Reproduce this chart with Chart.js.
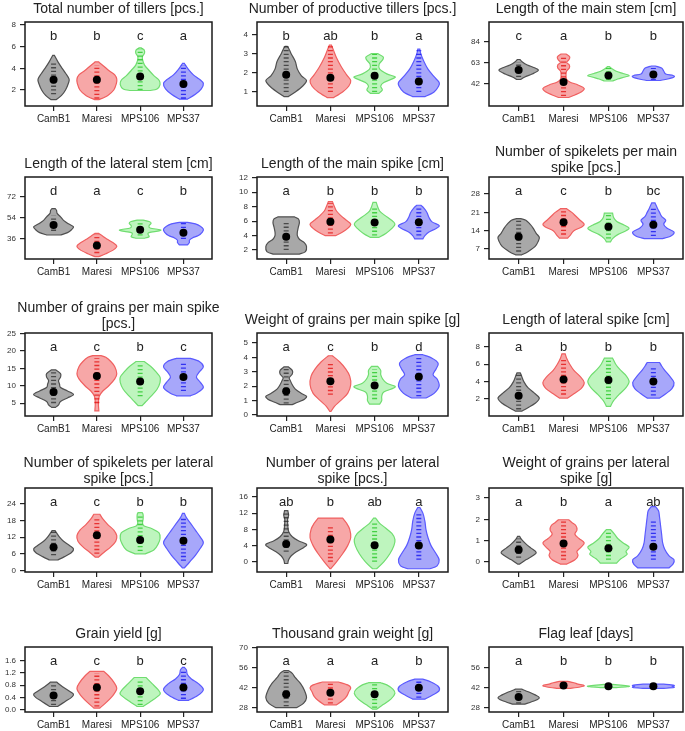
<!DOCTYPE html>
<html>
<head>
<meta charset="utf-8">
<script src="https://cdn.jsdelivr.net/npm/chart.js@4.4.1/dist/chart.umd.min.js"></script>
<style>
  html, body { margin: 0; padding: 0; background: #fff; overflow: hidden; }
  body { width: 685px; height: 731px; position: relative; }
  canvas { position: absolute; }
</style>
</head>
<body>
<script>
// groups on the x axis
const groups = ["CamB1", "Maresi", "MPS106", "MPS37"];

// letters of significance per panel
const tillersLetters = ["b", "b", "c", "a"];
const prodTillersLetters = ["b", "ab", "b", "a"];
const mainStemLetters = ["c", "a", "b", "b"];
const latStemLetters = ["d", "a", "c", "b"];
const mainSpikeLetters = ["a", "b", "b", "b"];
const spkMainLetters = ["a", "c", "b", "bc"];
const grainsMainLetters = ["a", "c", "b", "c"];
const weightMainLetters = ["a", "c", "b", "d"];
const latSpikeLetters = ["a", "b", "b", "b"];
const spkLatLetters = ["a", "c", "b", "b"];
const grainsLatLetters = ["ab", "b", "ab", "a"];
const weightLatLetters = ["a", "b", "a", "ab"];
const yieldLetters = ["a", "c", "b", "c"];
const tgwLetters = ["a", "a", "a", "b"];
const flagLetters = ["a", "b", "b", "b"];

// group means (black dots)
const tillersMeans = [2.95, 2.95, 3.25, 2.55];
const prodTillersMeans = [1.9, 1.75, 1.85, 1.55];
const mainStemMeans = [56, 44, 50.5, 51.5];
const latStemMeans = [48, 30.5, 44, 41.5];
const mainSpikeMeans = [3.85, 5.9, 5.8, 5.85];
const spkMainMeans = [11.7, 17.2, 15.5, 16.3];
const grainsMainMeans = [8.2, 12.8, 11.2, 12.5];
const weightMainMeans = [1.65, 2.35, 2.05, 2.65];
const latSpikeMeans = [2.38, 4.25, 4.2, 4.0];
const spkLatMeans = [8.4, 12.7, 11.0, 10.7];
const grainsLatMeans = [4.4, 5.5, 4.1, 4.0];
const weightLatMeans = [0.57, 0.87, 0.64, 0.72];
const yieldMeans = [0.46, 0.72, 0.6, 0.72];
const tgwMeans = [37.5, 38.5, 37.5, 42];
const flagMeans = [35.5, 43.5, 43, 43];

// range of the individual observations (rug strip)
const tillersRugs = [[1.6, 4.6], [1.2, 4.3], [2, 5.8], [1.2, 4.3]];
const prodTillersRugs = [[1, 3.4], [1, 3.4], [1, 3], [1, 3.2]];
const mainStemRugs = [[49, 64], [30, 70], [46, 58], [46, 58]];
const latStemRugs = [[43, 56], [24, 40], [39, 51], [36, 50]];
const mainSpikeRugs = [[2, 6], [4.3, 8.5], [4, 8], [4, 8]];
const spkMainRugs = [[6, 18], [12.5, 22], [11, 20], [12, 23]];
const grainsMainRugs = [[5, 14], [5, 18], [7, 16], [8.5, 17]];
const weightMainRugs = [[0.8, 3.2], [1.4, 3.7], [1.1, 3.2], [1.3, 4.1]];
const latSpikeRugs = [[0.8, 4.8], [2.5, 6.5], [2, 6.4], [2.4, 5.8]];
const spkLatRugs = [[5.5, 14], [6, 19], [7, 20], [3.5, 19]];
const grainsLatRugs = [[2.5, 12], [0, 9], [0, 9.5], [0.5, 12]];
const weightLatRugs = [[0.2, 1.1], [0.1, 1.9], [0.1, 1.45], [0.1, 1.9]];
const yieldRugs = [[0.15, 0.85], [0.1, 1.2], [0.15, 1.0], [0.35, 1.3]];
const tgwRugs = [[29, 53], [31, 45], [28, 45], [35, 47]];
const flagRugs = [[31, 40], [42, 45.5], [42.2, 44], [42, 44.3]];

// violin outlines: [value, relative half width]
const tillersViolins = [
  [[1.1, 0.12], [1.5, 0.4], [2.0, 0.6], [2.6, 0.74], [3.0, 0.78], [3.5, 0.62], [4.0, 0.43], [4.6, 0.22], [5.2, 0.04]],
  [[1.1, 0.1], [1.5, 0.55], [2.0, 0.85], [2.6, 0.98], [3.0, 1.0], [3.4, 0.9], [3.8, 0.6], [4.2, 0.35], [4.6, 0.08]],
  [[1.95, 0.5], [2.1, 0.85], [2.5, 1.0], [2.9, 0.95], [3.3, 0.7], [3.8, 0.45], [4.3, 0.22], [4.8, 0.12], [5.1, 0.12], [5.4, 0.22], [5.7, 0.2], [5.9, 0.05]],
  [[1.15, 0.2], [1.6, 0.6], [2.1, 0.9], [2.6, 1.0], [3.0, 0.8], [3.4, 0.5], [3.9, 0.25], [4.45, 0.05]]
];
const prodTillersViolins = [
  [[0.75, 0.1], [1.0, 0.45], [1.3, 0.8], [1.6, 1.0], [1.85, 0.75], [2.2, 0.55], [2.6, 0.45], [3.0, 0.25], [3.3, 0.12], [3.4, 0.05]],
  [[0.7, 0.15], [1.0, 0.6], [1.3, 0.9], [1.6, 1.0], [1.9, 0.8], [2.3, 0.55], [2.8, 0.3], [3.2, 0.15], [3.47, 0.05]],
  [[0.92, 0.2], [1.1, 0.38], [1.3, 0.3], [1.5, 0.45], [1.7, 0.9], [1.8, 1.0], [1.95, 0.6], [2.2, 0.25], [2.45, 0.22], [2.7, 0.4], [2.85, 0.42], [3.02, 0.15]],
  [[0.75, 0.3], [1.0, 0.75], [1.3, 0.97], [1.5, 1.0], [1.8, 0.75], [2.2, 0.45], [2.6, 0.25], [3.0, 0.1], [3.25, 0.05]]
];
const mainStemViolins = [
  [[46.5, 0.1], [49, 0.3], [52, 0.65], [55.5, 0.95], [58, 0.8], [61, 0.42], [64, 0.18], [66.5, 0.06]],
  [[28.5, 0.25], [31, 0.55], [34, 0.85], [37.5, 1.0], [41, 0.7], [44, 0.3], [47, 0.14], [52, 0.12], [55, 0.15], [58, 0.28], [61, 0.28], [63.5, 0.15], [66, 0.25], [69, 0.3], [72, 0.12]],
  [[45, 0.2], [47, 0.45], [49, 0.8], [50.5, 1.0], [52.5, 0.7], [55, 0.35], [57.5, 0.15], [59.3, 0.05]],
  [[45.5, 0.3], [47, 0.7], [49, 1.0], [50.5, 0.95], [52, 0.6], [55, 0.5], [58, 0.4], [60, 0.1]]
];
const latStemViolins = [
  [[39.5, 0.35], [41.5, 0.7], [44, 0.9], [46.5, 1.0], [49, 0.75], [52, 0.5], [55, 0.35], [58, 0.18], [60.5, 0.15], [62, 0.08]],
  [[21, 0.1], [23.5, 0.45], [27, 0.85], [30, 1.0], [33, 0.8], [36, 0.5], [38.5, 0.3], [40.8, 0.1]],
  [[36.7, 0.2], [38, 0.45], [40, 0.4], [41.5, 0.45], [43, 0.95], [44, 1.0], [45.5, 0.5], [47.5, 0.45], [49.5, 0.55], [51, 0.45], [52.2, 0.15]],
  [[31, 0.2], [33, 0.3], [35, 0.3], [37, 0.45], [39, 0.75], [42, 0.95], [44.5, 1.0], [47, 0.85], [49, 0.6], [50.3, 0.2]]
];
const mainSpikeViolins = [
  [[1.45, 0.65], [1.8, 0.95], [2.5, 1.0], [3.0, 0.9], [3.5, 0.65], [4.0, 0.55], [4.5, 0.55], [5.2, 0.6], [5.8, 0.65], [6.3, 0.6], [6.6, 0.4]],
  [[4.0, 0.25], [4.5, 0.6], [5.0, 0.85], [5.6, 1.0], [6.2, 0.75], [6.8, 0.5], [7.4, 0.3], [8.0, 0.2], [8.7, 0.1]],
  [[3.75, 0.2], [4.3, 0.55], [5.0, 0.85], [5.6, 1.0], [6.2, 0.8], [6.8, 0.5], [7.4, 0.25], [8.0, 0.15], [8.6, 0.08]],
  [[3.55, 0.2], [4.0, 0.3], [4.5, 0.5], [5.0, 0.85], [5.4, 1.0], [5.9, 0.65], [6.5, 0.5], [7.2, 0.4], [7.8, 0.25], [8.2, 0.1]]
];
const spkMainViolins = [
  [[4.8, 0.15], [6, 0.45], [8, 0.8], [10, 0.95], [11.5, 1.0], [13, 0.85], [15, 0.7], [16.5, 0.55], [18, 0.35], [18.6, 0.1]],
  [[11.2, 0.2], [12.5, 0.35], [14, 0.5], [15.5, 0.9], [16.5, 1.0], [18, 0.8], [19.5, 0.6], [21, 0.4], [22.4, 0.15]],
  [[9.7, 0.1], [11, 0.2], [12.5, 0.45], [14, 0.85], [15, 1.0], [16.2, 0.75], [17.5, 0.4], [19, 0.25], [20.7, 0.2]],
  [[11, 0.45], [12, 0.85], [13.5, 1.0], [15, 0.65], [16.5, 0.5], [18, 0.6], [19.5, 0.4], [21, 0.3], [22.5, 0.2], [24.6, 0.08]]
];
const grainsMainViolins = [
  [[3.8, 0.1], [4.5, 0.25], [5.5, 0.35], [6.5, 0.7], [7.5, 1.0], [8.5, 0.7], [9.5, 0.35], [10.5, 0.3], [11.5, 0.25], [12.5, 0.35], [13.5, 0.35], [14.6, 0.1]],
  [[2.8, 0.1], [5, 0.08], [7, 0.12], [8.5, 0.3], [10, 0.6], [12, 0.9], [13.5, 1.0], [15.5, 0.9], [17, 0.7], [18.2, 0.45], [18.7, 0.2]],
  [[4.3, 0.1], [5.5, 0.3], [7, 0.55], [9, 0.85], [11, 1.0], [12.5, 1.0], [14, 0.8], [15.5, 0.55], [17, 0.2]],
  [[7.1, 0.35], [8, 0.7], [9.5, 1.0], [11, 0.85], [12.5, 0.65], [14, 0.8], [15.5, 1.0], [17, 0.8], [17.9, 0.35]]
];
const weightMainViolins = [
  [[0.72, 0.3], [0.9, 0.6], [1.1, 0.9], [1.3, 1.0], [1.5, 0.75], [1.8, 0.45], [2.1, 0.3], [2.4, 0.2], [2.6, 0.15], [2.85, 0.3], [3.1, 0.3], [3.35, 0.1]],
  [[0.25, 0.03], [0.6, 0.2], [1.0, 0.5], [1.5, 0.85], [2.1, 1.0], [2.7, 0.95], [3.2, 0.75], [3.7, 0.45], [4.12, 0.1]],
  [[0.76, 0.25], [1.0, 0.35], [1.3, 0.35], [1.6, 0.45], [1.85, 0.9], [2.0, 1.0], [2.2, 0.6], [2.5, 0.4], [2.8, 0.3], [3.1, 0.3], [3.38, 0.15]],
  [[1.18, 0.35], [1.5, 0.75], [2.0, 1.0], [2.5, 0.9], [2.8, 0.7], [3.2, 0.85], [3.6, 0.95], [3.95, 0.65], [4.19, 0.2]]
];
const latSpikeViolins = [
  [[0.6, 0.15], [1.0, 0.45], [1.5, 0.8], [2.1, 1.0], [2.7, 0.75], [3.3, 0.45], [4.0, 0.25], [4.6, 0.15], [5.0, 0.08]],
  [[2.1, 0.2], [2.6, 0.5], [3.2, 0.85], [3.9, 1.0], [4.6, 0.8], [5.3, 0.5], [6.0, 0.3], [6.7, 0.15], [7.2, 0.08]],
  [[1.15, 0.1], [1.8, 0.25], [2.6, 0.55], [3.3, 0.85], [4.0, 1.0], [4.7, 0.85], [5.4, 0.55], [6.0, 0.35], [6.7, 0.2]],
  [[2.1, 0.3], [2.6, 0.6], [3.2, 0.9], [3.9, 1.0], [4.6, 0.8], [5.3, 0.55], [5.8, 0.4], [6.2, 0.3]]
];
const spkLatViolins = [
  [[3.8, 0.2], [5, 0.55], [6.5, 0.9], [7.8, 1.0], [9, 0.8], [10.5, 0.5], [12, 0.3], [13.5, 0.15], [14.3, 0.08]],
  [[4.8, 0.08], [6.5, 0.35], [8.5, 0.7], [10.5, 0.95], [12.5, 1.0], [14.5, 0.85], [16.5, 0.55], [18.5, 0.3], [20.2, 0.15]],
  [[6, 0.25], [7.5, 0.7], [9.5, 0.9], [11.5, 1.0], [13.5, 0.95], [15, 0.6], [16, 0.2], [17, 0.12], [18.5, 0.15], [20, 0.15], [20.8, 0.1]],
  [[1.0, 0.05], [3, 0.3], [5.5, 0.6], [8, 0.85], [10, 1.0], [12, 0.85], [14.5, 0.6], [17, 0.35], [19, 0.15], [20.5, 0.05]]
];
const grainsLatViolins = [
  [[-0.4, 0.08], [0.5, 0.12], [1.5, 0.25], [2.5, 0.5], [3.5, 0.85], [4.3, 1.0], [5.2, 0.6], [6.2, 0.3], [7.5, 0.12], [9, 0.08], [10.5, 0.07], [11.5, 0.12], [12.6, 0.08]],
  [[-1.7, 0.02], [0, 0.3], [2, 0.6], [4, 0.85], [6, 1.0], [8, 0.95], [9.5, 0.8], [10.8, 0.6]],
  [[-1.7, 0.1], [0, 0.45], [2, 0.75], [4, 0.95], [5.5, 1.0], [7, 0.85], [8.5, 0.5], [9.5, 0.25], [10.8, 0.05]],
  [[-1.7, 0.55], [-1, 0.9], [0.5, 1.0], [2, 0.85], [4, 0.6], [6, 0.45], [8, 0.35], [10, 0.3], [12, 0.2], [13.4, 0.05]]
];
const weightLatViolins = [
  [[-0.1, 0.05], [0.1, 0.35], [0.3, 0.7], [0.45, 0.85], [0.65, 0.6], [0.85, 0.35], [1.05, 0.15], [1.2, 0.05]],
  [[-0.1, 0.15], [0.1, 0.55], [0.3, 0.7], [0.5, 0.65], [0.7, 0.85], [0.9, 1.0], [1.1, 0.75], [1.3, 0.55], [1.5, 0.65], [1.7, 0.6], [1.85, 0.4], [1.98, 0.25]],
  [[-0.05, 0.4], [0.15, 0.6], [0.35, 0.9], [0.5, 0.85], [0.7, 1.0], [0.9, 0.7], [1.1, 0.45], [1.3, 0.3], [1.52, 0.1]],
  [[-0.28, 0.75], [-0.1, 0.95], [0.1, 1.0], [0.3, 0.75], [0.6, 0.55], [0.9, 0.45], [1.3, 0.4], [1.7, 0.35], [2.1, 0.3], [2.4, 0.25], [2.6, 0.1]]
];
const yieldViolins = [
  [[0.1, 0.2], [0.25, 0.55], [0.4, 0.9], [0.5, 1.0], [0.6, 0.8], [0.75, 0.45], [0.9, 0.15]],
  [[0.05, 0.15], [0.25, 0.5], [0.5, 0.85], [0.7, 1.0], [0.9, 0.85], [1.1, 0.6], [1.25, 0.35]],
  [[0.1, 0.15], [0.3, 0.6], [0.5, 1.0], [0.65, 0.9], [0.85, 0.6], [1.05, 0.3]],
  [[0.3, 0.25], [0.45, 0.7], [0.65, 1.0], [0.85, 0.75], [1.0, 0.4], [1.15, 0.2], [1.3, 0.15], [1.38, 0.05]]
];
const tgwViolins = [
  [[28, 0.5], [31, 0.85], [35, 1.0], [40, 0.9], [45, 0.7], [49, 0.45], [52, 0.3], [54, 0.1]],
  [[30, 0.3], [33, 0.6], [36, 0.8], [39, 0.9], [42, 1.0], [44, 0.85], [46, 0.4]],
  [[27, 0.1], [30, 0.4], [34, 0.8], [38, 1.0], [41, 0.9], [44, 0.6], [45.5, 0.3]],
  [[34, 0.3], [37, 0.7], [40, 1.0], [43, 0.95], [46, 0.6], [48, 0.2]]
];
const flagViolins = [
  [[30.5, 0.3], [33, 0.8], [35, 1.0], [37, 0.8], [39, 0.5], [41, 0.15]],
  [[41.5, 0.3], [42.5, 0.8], [43.5, 1.0], [44.5, 0.7], [45.5, 0.5], [46.5, 0.2]],
  [[42, 0.35], [42.7, 0.9], [43.2, 1.0], [43.8, 0.6], [44.3, 0.2]],
  [[41.5, 0.5], [42.2, 1.0], [43, 0.9], [43.7, 1.0], [44.5, 0.5]]
];

// y tick labels
const tillersTicks = [2, 4, 6, 8];
const prodTillersTicks = [1, 2, 3, 4];
const mainStemTicks = [42, 63, 84];
const latStemTicks = [36, 54, 72];
const mainSpikeTicks = [2, 4, 6, 8, 10, 12];
const spkMainTicks = [7, 14, 21, 28];
const grainsMainTicks = [5, 10, 15, 20, 25];
const weightMainTicks = [0, 1, 2, 3, 4, 5];
const latSpikeTicks = [2, 4, 6, 8];
const spkLatTicks = [0, 6, 12, 18, 24];
const grainsLatTicks = [0, 4, 8, 12, 16];
const weightLatTicks = [0, 1, 2, 3];
const yieldTicks = [0, 0.4, 0.8, 1.2, 1.6];
const tgwTicks = [28, 42, 56, 70];
const flagTicks = [28, 42, 56];

const fills = ["rgba(110,110,110,0.6)", "rgba(240,80,80,0.5)", "rgba(100,230,100,0.42)", "rgba(80,80,245,0.5)"];
const edges = ["#505050", "#f06060", "#70dd70", "#5a5aff"];
const rugColors = ["#222", "#e00000", "#10c010", "#0000ee"];

const colL = [25, 257, 489], colR = [212, 448, 683];
const rowT = [22, 177, 333, 488, 647], rowB = [106, 259, 416, 572, 712];

const panels = [
  { title: ["Total number of tillers [pcs.]"], letters: tillersLetters, means: tillersMeans, rugs: tillersRugs, violins: tillersViolins, ticks: tillersTicks, min: 0.52, max: 8.28, dec: 0 },
  { title: ["Number of productive tillers [pcs.]"], letters: prodTillersLetters, means: prodTillersMeans, rugs: prodTillersRugs, violins: prodTillersViolins, ticks: prodTillersTicks, min: 0.26, max: 4.68, dec: 0 },
  { title: ["Length of the main stem [cm]"], letters: mainStemLetters, means: mainStemMeans, rugs: mainStemRugs, violins: mainStemViolins, ticks: mainStemTicks, min: 20, max: 104, dec: 0 },
  { title: ["Length of the lateral stem [cm]"], letters: latStemLetters, means: latStemMeans, rugs: latStemRugs, violins: latStemViolins, ticks: latStemTicks, min: 19, max: 89, dec: 0 },
  { title: ["Length of the main spike [cm]"], letters: mainSpikeLetters, means: mainSpikeMeans, rugs: mainSpikeRugs, violins: mainSpikeViolins, ticks: mainSpikeTicks, min: 0.77, max: 12.1, dec: 0 },
  { title: ["Number of spikelets per main", "spike [pcs.]"], letters: spkMainLetters, means: spkMainMeans, rugs: spkMainRugs, violins: spkMainViolins, ticks: spkMainTicks, min: 3.2, max: 34.5, dec: 0 },
  { title: ["Number of grains per main spike", "[pcs.]"], letters: grainsMainLetters, means: grainsMainMeans, rugs: grainsMainRugs, violins: grainsMainViolins, ticks: grainsMainTicks, min: 1.3, max: 25.2, dec: 0 },
  { title: ["Weight of grains per main spike [g]"], letters: weightMainLetters, means: weightMainMeans, rugs: weightMainRugs, violins: weightMainViolins, ticks: weightMainTicks, min: -0.07, max: 5.7, dec: 0 },
  { title: ["Length of lateral spike [cm]"], letters: latSpikeLetters, means: latSpikeMeans, rugs: latSpikeRugs, violins: latSpikeViolins, ticks: latSpikeTicks, min: 0.04, max: 9.6, dec: 0 },
  { title: ["Number of spikelets per lateral", "spike [pcs.]"], letters: spkLatLetters, means: spkLatMeans, rugs: spkLatRugs, violins: spkLatViolins, ticks: spkLatTicks, min: -0.5, max: 29.6, dec: 0 },
  { title: ["Number of grains per lateral", "spike [pcs.]"], letters: grainsLatLetters, means: grainsLatMeans, rugs: grainsLatRugs, violins: grainsLatViolins, ticks: grainsLatTicks, min: -2.5, max: 18.2, dec: 0 },
  { title: ["Weight of grains per lateral", "spike [g]"], letters: weightLatLetters, means: weightLatMeans, rugs: weightLatRugs, violins: weightLatViolins, ticks: weightLatTicks, min: -0.47, max: 3.47, dec: 0 },
  { title: ["Grain yield [g]"], letters: yieldLetters, means: yieldMeans, rugs: yieldRugs, violins: yieldViolins, ticks: yieldTicks, min: -0.08, max: 2.05, dec: 1 },
  { title: ["Thousand grain weight [g]"], letters: tgwLetters, means: tgwMeans, rugs: tgwRugs, violins: tgwViolins, ticks: tgwTicks, min: 25, max: 70.5, dec: 0 },
  { title: ["Flag leaf [days]"], letters: flagLetters, means: flagMeans, rugs: flagRugs, violins: flagViolins, ticks: flagTicks, min: 25, max: 70.5, dec: 0 }
];

// canvas margins round each plot box (extra room on the right for long titles)
const PAD_L = 30, PAD_T = 40, PAD_R = 32, PAD_B = 28;

function smoothSide(ctx, pts) {
  for (let i = 0; i < pts.length - 1; i++) {
    const p0 = pts[i - 1] || pts[i], p1 = pts[i], p2 = pts[i + 1], p3 = pts[i + 2] || p2;
    ctx.bezierCurveTo(
      p1.x + (p2.x - p0.x) / 6, p1.y + (p2.y - p0.y) / 6,
      p2.x - (p3.x - p1.x) / 6, p2.y - (p3.y - p1.y) / 6,
      p2.x, p2.y
    );
  }
}

const violinPlugin = {
  id: "violins",
  beforeDatasetsDraw(chart) {
    const p = chart.options.plugins.violins.panel;
    const xs = chart.scales.x, ys = chart.scales.y, ctx = chart.ctx;
    const unit = xs.getPixelForValue(1) - xs.getPixelForValue(0);
    ctx.save();
    p.violins.forEach((prof, g) => {
      const cx = xs.getPixelForValue(g + 1);
      const right = prof.map(([v, w]) => ({ x: cx + w * 0.46 * unit, y: ys.getPixelForValue(v) }));
      const left = prof.slice().reverse().map(([v, w]) => ({ x: cx - w * 0.46 * unit, y: ys.getPixelForValue(v) }));
      ctx.beginPath();
      ctx.moveTo(right[0].x, right[0].y);
      smoothSide(ctx, right);
      ctx.lineTo(left[0].x, left[0].y);
      smoothSide(ctx, left);
      ctx.closePath();
      ctx.fillStyle = fills[g];
      ctx.fill();
      ctx.lineWidth = 1.2;
      ctx.strokeStyle = edges[g];
      ctx.stroke();
      // rug strip
      const [lo, hi] = p.rugs[g];
      ctx.beginPath();
      ctx.setLineDash([1.3, 2.4]);
      ctx.lineWidth = 5;
      ctx.strokeStyle = rugColors[g];
      ctx.globalAlpha = 0.7;
      ctx.moveTo(cx, ys.getPixelForValue(lo));
      ctx.lineTo(cx, ys.getPixelForValue(hi));
      ctx.stroke();
      ctx.setLineDash([]);
      ctx.globalAlpha = 1;
    });
    ctx.restore();
  },
  afterDraw(chart) {
    const p = chart.options.plugins.violins.panel;
    const a = chart.chartArea, ctx = chart.ctx, xs = chart.scales.x;
    ctx.save();
    ctx.strokeStyle = "#1a1a1a";
    ctx.lineWidth = 1.5;
    ctx.strokeRect(a.left, a.top, a.right - a.left, a.bottom - a.top);
    ctx.fillStyle = "#222";
    ctx.textAlign = "center";
    ctx.textBaseline = "middle";
    ctx.font = "13px 'Liberation Sans', Arial, sans-serif";
    p.letters.forEach((l, g) => ctx.fillText(l, xs.getPixelForValue(g + 1), a.top + 14));
    ctx.font = "14px 'Liberation Sans', Arial, sans-serif";
    const cx = (a.left + a.right) / 2;
    if (p.title.length === 1) {
      ctx.fillText(p.title[0], cx, a.top - 13);
    } else {
      ctx.fillText(p.title[0], cx, a.top - 25);
      ctx.fillText(p.title[1], cx, a.top - 9);
    }
    ctx.restore();
  }
};

panels.forEach((p, idx) => {
  const col = idx % 3, row = Math.floor(idx / 3);
  const bl = colL[col], br = colR[col], bt = rowT[row], bb = rowB[row];
  const cv = document.createElement("canvas");
  const w = br - bl + PAD_L + PAD_R, h = bb - bt + PAD_T + PAD_B;
  cv.width = w; cv.height = h;
  cv.style.left = (bl - PAD_L) + "px";
  cv.style.top = (bt - PAD_T) + "px";
  cv.style.width = w + "px"; cv.style.height = h + "px";
  document.body.appendChild(cv);

  new Chart(cv.getContext("2d"), {
    type: "scatter",
    data: {
      datasets: [{
        data: p.means.map((m, i) => ({ x: i + 1, y: m })),
        pointRadius: 4,
        pointHoverRadius: 4,
        backgroundColor: "#000",
        borderColor: "#000",
        borderWidth: 0
      }]
    },
    options: {
      responsive: false,
      animation: false,
      devicePixelRatio: 1,
      layout: { padding: { left: 0, top: PAD_T, right: PAD_R, bottom: 0 } },
      plugins: {
        legend: { display: false },
        tooltip: { enabled: false },
        violins: { panel: p }
      },
      scales: {
        x: {
          type: "linear",
          min: 0.34,
          max: 4.66,
          afterBuildTicks: (s) => { s.ticks = [1, 2, 3, 4].map((v) => ({ value: v })); },
          afterFit: (s) => { s.height = PAD_B; },
          ticks: {
            callback: (v) => groups[v - 1],
            font: { size: 10, family: "'Liberation Sans', Arial, sans-serif" },
            color: "#222",
            padding: 2,
            maxRotation: 0,
            autoSkip: false
          },
          grid: { drawOnChartArea: false, drawTicks: true, tickLength: 5, color: "#222", lineWidth: 1.2 },
          border: { display: false }
        },
        y: {
          type: "linear",
          min: p.min,
          max: p.max,
          afterBuildTicks: (s) => { s.ticks = p.ticks.map((v) => ({ value: v })); },
          afterFit: (s) => { s.width = PAD_L; },
          ticks: {
            callback: (v) => v.toFixed(p.dec),
            font: { size: 8, family: "'Liberation Sans', Arial, sans-serif" },
            color: "#333",
            padding: 4,
            autoSkip: false
          },
          grid: { drawOnChartArea: false, drawTicks: true, tickLength: 5, color: "#222", lineWidth: 1.2 },
          border: { display: false }
        }
      }
    },
    plugins: [violinPlugin]
  });
});
</script>
</body>
</html>
